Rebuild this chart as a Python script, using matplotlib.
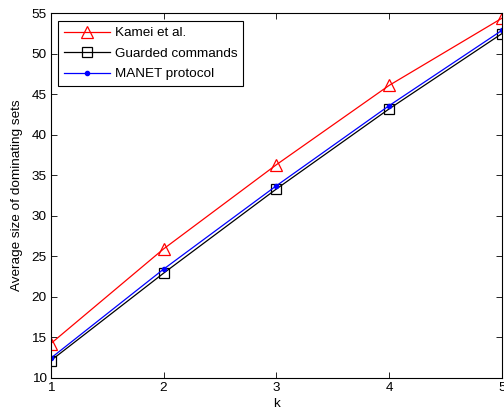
import matplotlib
matplotlib.use("Agg")
import matplotlib.pyplot as plt

plt.rcParams['font.family'] = ['Liberation Sans', 'DejaVu Sans']

k = [1, 2, 3, 4, 5]
kamei = [14.2, 25.9, 36.3, 46.1, 54.4]
guarded = [12.1, 22.9, 33.3, 43.2, 52.5]
manet = [12.4, 23.4, 33.7, 43.6, 52.9]

fs = 9.7
fig = plt.figure(figsize=(5.04, 4.15), dpi=100)
ax = fig.add_axes([0.1006, 0.0899, 0.8954, 0.878])

ax.plot(k, kamei, color='red', lw=0.9, marker='^', markersize=8, markerfacecolor='none',
        markeredgecolor='red', markeredgewidth=0.9, label='Kamei et al.')
ax.plot(k, guarded, color='black', lw=0.9, marker='s', markersize=7, markerfacecolor='none',
        markeredgecolor='black', markeredgewidth=0.9, label='Guarded commands')
ax.plot(k, manet, color='blue', lw=0.9, marker='o', markersize=3, markerfacecolor='blue',
        markeredgecolor='blue', label='MANET protocol')

ax.set_xlim(1, 5)
ax.set_ylim(10, 55)
ax.set_xticks([1, 2, 3, 4, 5])
ax.set_yticks(list(range(10, 56, 5)))
ax.tick_params(direction='in', top=True, right=True, labelsize=fs, length=4, width=0.6, pad=3)
for s in ax.spines.values():
    s.set_linewidth(0.8)
ax.set_xlabel('k', fontsize=fs, labelpad=3)
ax.set_ylabel('Average size of dominating sets', fontsize=fs, labelpad=6)

leg = ax.legend(loc='upper left', fontsize=fs, frameon=True, fancybox=False,
                edgecolor='black', framealpha=1, handlelength=3.4, borderpad=0.45,
                labelspacing=0.6, handletextpad=0.35, borderaxespad=0.55)
leg.get_frame().set_linewidth(0.8)

fig.savefig('out.png', dpi=100)
